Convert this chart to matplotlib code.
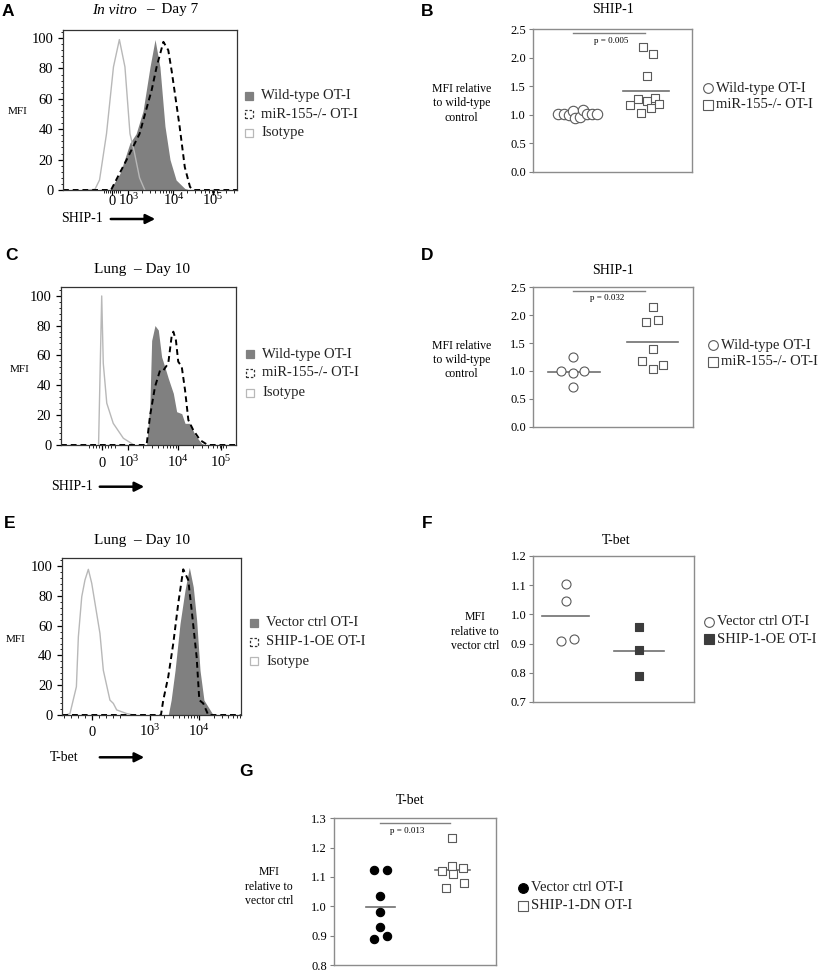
import numpy as np
import matplotlib
matplotlib.use("Agg")
import matplotlib.pyplot as plt
from matplotlib.patches import Rectangle, FancyArrowPatch
from matplotlib.lines import Line2D
from matplotlib.ticker import MultipleLocator, FixedLocator
from matplotlib.transforms import offset_copy

plt.rcParams['font.family'] = ['Liberation Serif', 'DejaVu Serif']
plt.rcParams['mathtext.default'] = 'regular'

W, H = 827, 974

# ---- histogram data (x in display units 0-100 of the axis, y = % of max) ----
A_iso_x = [15, 18.4, 21, 25, 29, 32.4, 35.6, 38.5, 41, 44, 47]
A_iso_y = [0, 0.5, 6.6, 37, 81, 99, 81, 37, 25, 8, 0]
A_wt_x = [27, 32.8, 38.5, 42, 46, 50, 52.9, 55.7, 58.6, 61.5, 65, 70, 73]
A_wt_y = [0, 11, 31, 37, 52, 81, 99, 81, 42, 20, 6.6, 1, 0]
A_ko_x = [0, 27.6, 36.6, 44, 51, 53.8, 57.7, 60.5, 62.5, 67, 70, 73, 75, 100]
A_ko_y = [0, 0, 20, 37, 66, 81, 97.5, 92, 78, 42, 15, 2, 0, 0]
A_ticks = [28, 37.5, 63.5, 86]

C_iso_x = [21.5, 22.4, 23.3, 24.2, 26.2, 29.9, 35.7, 41.4]
C_iso_y = [0, 50, 99.8, 54.7, 28, 14.5, 4.5, 0.3]
C_wt_x = [49, 50.9, 51.9, 53.8, 55.7, 57.6, 59.5, 61.4, 64.3, 66.2, 69.1, 71, 73.8, 76.7, 80.5, 83]
C_wt_y = [0, 28, 70, 80, 77, 59, 52, 44.7, 34.6, 22.3, 21, 14.5, 14.5, 6.7, 1, 0]
C_ko_x = [0, 49, 50.9, 53.8, 56.7, 58.6, 61.4, 63.3, 64.3, 65.8, 67.1, 69.1, 71, 72.9, 75.7, 79.6, 84, 100]
C_ko_y = [0, 0, 19, 39, 50, 50, 54.7, 72.5, 75.9, 70, 55.8, 52.5, 36.8, 16.7, 10, 3.3, 0, 0]
C_ticks = [23.5, 38.5, 67, 91.5]

E_iso_x = [2, 4.3, 7.9, 9, 10.9, 12.7, 14.6, 16.5, 21.1, 23, 26.7, 28.6, 30.5, 36, 40]
E_iso_y = [0, 1, 19, 52.5, 79.4, 90.6, 97.8, 88.4, 54.8, 30, 10, 7.8, 3.4, 1, 0]
E_wt_x = [59.4, 61, 63.2, 66, 68.8, 71.2, 73.4, 75.3, 77.2, 79.4, 84.6]
E_wt_y = [0, 10, 30, 61.5, 83.9, 99.1, 86, 63.8, 30, 10, 0]
E_oe_x = [0, 55.3, 56.6, 59.4, 62.2, 65, 67.8, 70.6, 72.5, 75.3, 76.8, 79, 81.8, 100]
E_oe_y = [0, 0, 10, 25.7, 48, 75, 97.8, 90.6, 70.5, 39, 10, 7.8, 0, 0]
E_ticks = [16.5, 49, 76.5]

# ---- dot plot data (x = jitter position in axis fraction, y = MFI ratio) ----
B_wt_x = [0.161, 0.196, 0.228, 0.255, 0.266, 0.297, 0.314, 0.339, 0.370, 0.402]
B_wt_y = [1.005, 1.005, 0.99, 1.069, 0.935, 0.964, 1.081, 1.005, 1.005, 1.005]
B_ko_x = [0.611, 0.663, 0.678, 0.716, 0.741, 0.768, 0.795, 0.716, 0.690, 0.757]
B_ko_y = [1.169, 1.268, 1.023, 1.244, 1.121, 1.286, 1.18, 1.677, 2.19, 2.056]

D_wt_x = [0.177, 0.254, 0.323, 0.254, 0.254]
D_wt_y = [1.0, 0.96, 1.0, 1.245, 0.72]
D_ko_x = [0.75, 0.706, 0.781, 0.75, 0.681, 0.754, 0.817]
D_ko_y = [2.14, 1.883, 1.914, 1.393, 1.184, 1.04, 1.10]

F_wt_x = [0.203, 0.203, 0.172, 0.251]
F_wt_y = [1.103, 1.046, 0.908, 0.916]
F_oe_x = [0.658, 0.658, 0.658]
F_oe_y = [0.957, 0.879, 0.788]

G_wt_x = [0.249, 0.325, 0.286, 0.286, 0.286, 0.249, 0.325]
G_wt_y = [1.124, 1.124, 1.036, 0.982, 0.930, 0.887, 0.899]
G_dn_x = [0.730, 0.730, 0.669, 0.737, 0.796, 0.800, 0.693]
G_dn_y = [1.234, 1.138, 1.121, 1.109, 1.13, 1.08, 1.063]

fig = plt.figure(figsize=(8.27, 9.74), dpi=100)


def fx(x):
    return x / W


def fy(y):
    return 1 - y / H


def add_ax(l, t, r, b):
    return fig.add_axes([l / W, 1 - b / H, (r - l) / W, (b - t) / H])


def ftext(x, y, s, **kw):
    kw.setdefault('ha', 'center')
    kw.setdefault('va', 'center')
    fig.text(fx(x), fy(y), s, **kw)


def minor_x(ticks):
    # log-spaced minor ticks between decades, linear ones around zero
    out = []
    step = (ticks[1] - ticks[0]) / 5
    for k in range(-4, 5):
        out.append(ticks[0] + k * step * 0.6)
    dec = ticks[2] - ticks[1]
    for i in range(1, len(ticks)):
        for m in range(2, 10):
            out.append(ticks[i] + dec * np.log10(m))
    return [v for v in out if 0 < v < 100]


def hist_panel(box, iso, wt, ko, ticks, labels, ymax, base_px):
    ax = add_ax(*box)
    ax.plot(iso[0], iso[1], color='#b8b8b8', lw=1.0)
    ax.fill_between(wt[0], wt[1], color='#808080', lw=0)
    ax.plot(ko[0], ko[1], color='black', lw=1.4, ls=(0, (3, 2)))
    ax.set_xlim(0, 100)
    ax.set_ylim(0, ymax)
    ax.set_yticks([0, 20, 40, 60, 80, 100])
    ax.yaxis.set_minor_locator(MultipleLocator(4))
    ax.set_xticks(ticks)
    ax.set_xticklabels([])
    # tick labels drawn on a common baseline below the axis
    tr = offset_copy(ax.get_xaxis_transform(), fig=fig, y=-base_px, units='dots')
    for t, lab in zip(ticks, labels):
        ax.text(t, 0, lab, transform=tr, ha='center', va='baseline', fontsize=10.5)
    ax.xaxis.set_minor_locator(FixedLocator(minor_x(ticks)))
    ax.tick_params(direction='out', length=3.5, width=0.9, labelsize=10.5,
                   top=False, right=False)
    ax.tick_params(which='minor', length=1.8, width=0.6, top=False, right=False)
    for s in ax.spines.values():
        s.set_color('#333333')
        s.set_linewidth(0.9)
    return ax


def hist_legend(x, ys, labels):
    styles = [dict(facecolor='#808080', edgecolor='#808080', ls='-'),
              dict(facecolor='white', edgecolor='#333333', ls=(0, (2, 1.5))),
              dict(facecolor='white', edgecolor='#b8b8b8', ls='-')]
    for y, lab, st in zip(ys, labels, styles):
        fig.add_artist(Rectangle((fx(x - 4), fy(y + 4)), 8 / W, 8 / H,
                                 transform=fig.transFigure, lw=0.9, **st))
        ftext(x + 12, y, lab, ha='left', fontsize=10.5, color='#222222')


def arrow_label(x, y, text, a0, a1):
    ftext(x, y, text, ha='left', fontsize=10)
    fig.add_artist(FancyArrowPatch(
        (fx(a0), fy(y)), (fx(a1), fy(y)), transform=fig.transFigure,
        arrowstyle='-|>', mutation_scale=14, lw=1.8, color='black'))


def dot_panel(box, ylim, groups, sig=None):
    ax = add_ax(*box)
    for xs, ys, marker, face, edge, ms, line in groups:
        ax.scatter(xs, ys, s=ms ** 2, marker=marker, facecolors=face,
                   edgecolors=edge, linewidths=0.8, zorder=3)
        m = np.mean(ys)
        ax.plot(line, [m, m], color='#707070', lw=1.2, zorder=2)
    ax.set_xlim(0, 1)
    ax.set_ylim(*ylim)
    ax.set_xticks([])
    yt = np.arange(ylim[0], ylim[1] + 1e-6, 0.5 if ylim[1] > 2 else 0.1)
    ax.set_yticks(yt)
    ax.set_yticklabels([f'{v:.1f}' for v in yt])
    ax.tick_params(axis='y', direction='out', length=3, width=0.8,
                   colors='#808080', labelcolor='black', labelsize=9, pad=2)
    for s in ax.spines.values():
        s.set_color('#8c8c8c')
        s.set_linewidth(1.0)
    if sig:
        x0, x1, yb, tx, ty, txt = sig
        ax.plot([x0, x1], [yb, yb], color='#808080', lw=1.0, clip_on=False)
        ax.text(tx, ty, txt, ha='center', va='center', fontsize=6.5)
    return ax


def dot_legend(x, ys, labels, styles):
    for y, lab, (mk, face, edge, ms) in zip(ys, labels, styles):
        fig.add_artist(Line2D([fx(x)], [fy(y)], transform=fig.transFigure,
                              marker=mk, markersize=ms, markerfacecolor=face,
                              markeredgecolor=edge, markeredgewidth=0.8, ls=''))
        ftext(x + 8, y, lab, ha='left', fontsize=10.5, color='#222222')


dec = ['0', '$10^{3}$', '$10^{4}$', '$10^{5}$']
hist_lab = ['Wild-type OT-I', 'miR-155-/- OT-I', 'Isotype']

# ---- A ----
hist_panel((63, 30, 237, 190), (A_iso_x, A_iso_y), (A_wt_x, A_wt_y),
           (A_ko_x, A_ko_y), A_ticks, dec, 105.3, 15)
ftext(137, 10, 'In vitro', ha='right', fontsize=11, style='italic')
ftext(146, 10, '–  Day 7', ha='left', fontsize=11)
ftext(18, 112, 'MFI', fontsize=8)
hist_legend(249, [95.7, 114, 132.7], hist_lab)
arrow_label(61, 219, 'SHIP-1', 108, 158)

# ---- C ----
hist_panel((61, 287.3, 235.7, 445), (C_iso_x, C_iso_y), (C_wt_x, C_wt_y),
           (C_ko_x, C_ko_y), C_ticks, dec, 105.6, 21.5)
ftext(141.7, 269, 'Lung  – Day 10', fontsize=11)
ftext(20, 370, 'MFI', fontsize=8)
hist_legend(250, [354.3, 372.7, 392.7], hist_lab)
arrow_label(51, 486.7, 'SHIP-1', 97, 147)

# ---- E ----
hist_panel((62.3, 558.3, 240.7, 715), (E_iso_x, E_iso_y), (E_wt_x, E_wt_y),
           (E_oe_x, E_oe_y), E_ticks, dec[:3], 105.2, 21.5)
ftext(141.7, 540.7, 'Lung  – Day 10', fontsize=11)
ftext(16, 640, 'MFI', fontsize=8)
hist_legend(254, [622.7, 641.7, 661],
            ['Vector ctrl OT-I', 'SHIP-1-OE OT-I', 'Isotype'])
arrow_label(50, 757.3, 'T-bet', 97, 147)

# ---- B ----
gray_edge = '#5a5a5a'
dot_panel((532.7, 29, 692, 171.7), (0, 2.5),
          [(B_wt_x, B_wt_y, 'o', 'white', gray_edge, 7.5, [0.14, 0.42]),
           (B_ko_x, B_ko_y, 's', 'white', gray_edge, 6.0, [0.567, 0.856])],
          sig=(0.255, 0.705, 2.43, 0.49, 2.29, 'p = 0.005'))
ftext(613.3, 9.3, 'SHIP-1', fontsize=10)
ftext(461.7, 103.3, 'MFI relative\nto wild-type\ncontrol', fontsize=8.5, linespacing=1.25)
dot_legend(708.3, [88.3, 105], ['Wild-type OT-I', 'miR-155-/- OT-I'],
           [('o', 'white', gray_edge, 7), ('s', 'white', gray_edge, 7)])

# ---- D ----
dot_panel((532.7, 287.3, 692.7, 426.7), (0, 2.5),
          [(D_wt_x, D_wt_y, 'o', 'white', gray_edge, 6.5, [0.098, 0.42]),
           (D_ko_x, D_ko_y, 's', 'white', gray_edge, 6.0, [0.587, 0.91])],
          sig=(0.254, 0.702, 2.44, 0.4625, 2.30, 'p = 0.032'))
ftext(613.3, 270, 'SHIP-1', fontsize=10)
ftext(461.7, 360, 'MFI relative\nto wild-type\ncontrol', fontsize=8.5, linespacing=1.25)
dot_legend(713.3, [345, 361.7], ['Wild-type OT-I', 'miR-155-/- OT-I'],
           [('o', 'white', gray_edge, 7), ('s', 'white', gray_edge, 7)])

# ---- F ----
dot_panel((533.3, 556, 694, 702), (0.7, 1.2),
          [(F_wt_x, F_wt_y, 'o', 'white', gray_edge, 6.5, [0.052, 0.347]),
           (F_oe_x, F_oe_y, 's', '#3c3c3c', '#3c3c3c', 5.8, [0.504, 0.815])])
ftext(616, 541, 'T-bet', fontsize=10)
ftext(475, 631.7, 'MFI\nrelative to\nvector ctrl', fontsize=8.5, linespacing=1.25)
dot_legend(709.3, [621.7, 639.3], ['Vector ctrl OT-I', 'SHIP-1-OE OT-I'],
           [('o', 'white', gray_edge, 7), ('s', '#3c3c3c', '#3c3c3c', 7)])

# ---- G ----
dot_panel((334, 818.3, 496, 965), (0.8, 1.3),
          [(G_wt_x, G_wt_y, 'o', 'black', 'black', 6.0, [0.2, 0.377]),
           (G_dn_x, G_dn_y, 's', 'white', gray_edge, 6.0, [0.623, 0.84])],
          sig=(0.284, 0.716, 1.283, 0.452, 1.258, 'p = 0.013'))
ftext(410, 800.7, 'T-bet', fontsize=10)
ftext(269, 886.7, 'MFI\nrelative to\nvector ctrl', fontsize=8.5, linespacing=1.25)
dot_legend(522.7, [887.7, 905.7], ['Vector ctrl OT-I', 'SHIP-1-DN OT-I'],
           [('o', 'black', 'black', 7), ('s', 'white', gray_edge, 7)])

# ---- panel letters ----
for lt, x, y in [('A', 8, 11), ('B', 427, 11), ('C', 11, 256), ('D', 427, 256),
                 ('E', 10, 523), ('F', 427, 523), ('G', 246, 771)]:
    ftext(x, y, lt, fontsize=12.5, fontweight='bold', family='Liberation Sans')

fig.savefig('out.png', dpi=100, facecolor='white')
